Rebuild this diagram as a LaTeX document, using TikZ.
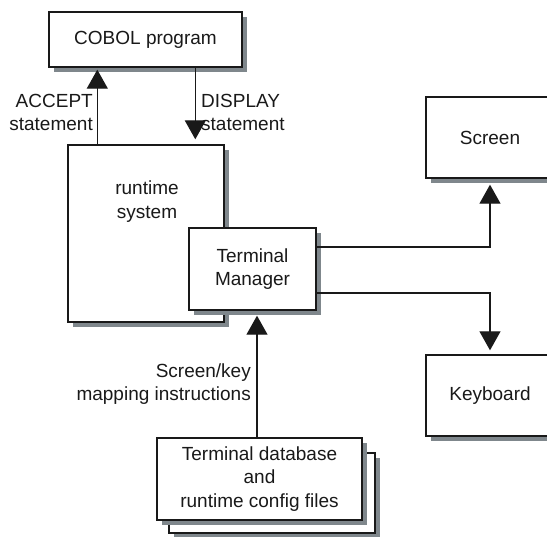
\documentclass[tikz,border=0pt]{standalone}
\usepackage{fontspec}
\setmainfont{Liberation Sans}
\usetikzlibrary{arrows.meta,shadows}
\definecolor{shadowgray}{RGB}{127,135,140}
\definecolor{ink}{RGB}{25,25,25}
\begin{document}
\begin{tikzpicture}[x=1pt,y=-1pt,
  font=\fontsize{19}{23.5}\selectfont,
  every node/.style={text=ink},
  box/.style={draw=ink, fill=white, line width=1.4pt, inner sep=0pt, align=center,
    drop shadow={shadow xshift=5pt, shadow yshift=-5pt, fill=shadowgray, opacity=1}},
  arr/.style={draw=ink, line width=1.3pt, -{Triangle[width=21pt,length=19pt]}},
  lbl/.style={inner sep=0pt}]
\useasboundingbox (0,0) rectangle (547,537);
\clip (0,0) rectangle (547,537);
% boxes
\node[box, minimum width=193pt, minimum height=55pt] (cobol) at (145.5,39.5) {COBOL program};
\node[box, minimum width=156pt, minimum height=177pt] (rt) at (146,233.5) {};
\node[lbl, align=center] (rttext) at (147,201.5) {runtime\\system};
\node[box, minimum width=127pt, minimum height=82pt] (tm) at (252.5,269) {Terminal\\Manager};
\node[box, minimum width=128pt, minimum height=81pt] (screen) at (490,137.5) {Screen};
\node[box, minimum width=128pt, minimum height=81pt] (kb) at (490,395.5) {Keyboard};
\node[box, minimum width=206pt, minimum height=80pt] (db2) at (272,493) {};
\node[box, minimum width=205pt, minimum height=82pt] (db) at (259.5,479) {Terminal database\\and\\runtime config files};
% labels
\node[lbl, align=right, anchor=east] (accept) at (93,112.5) {ACCEPT\\statement};
\node[lbl, align=left, anchor=west] (display) at (201,112.5) {DISPLAY\\statement};
\node[lbl, align=right, anchor=east] (mapping) at (251,384) {Screen/key\\mapping instructions};
% connectors
\draw[arr, shorten >=2pt] ([xshift=30pt]rt.north west) -- ([xshift=30pt]rt.north west |- cobol.south);
\draw[arr, shorten >=5pt] ([xshift=147pt]cobol.south west) -- ([xshift=147pt]cobol.south west |- rt.north);
\draw[arr, shorten >=6pt] ([yshift=22pt]tm.east) -| (screen.south);
\draw[arr, shorten >=4pt] ([yshift=-24pt]tm.east) -| (kb.north);
\draw[arr, shorten >=5pt] ([xshift=-2.5pt]db.north) -- ([xshift=-2.5pt]db.north |- tm.south);
\end{tikzpicture}
\end{document}
